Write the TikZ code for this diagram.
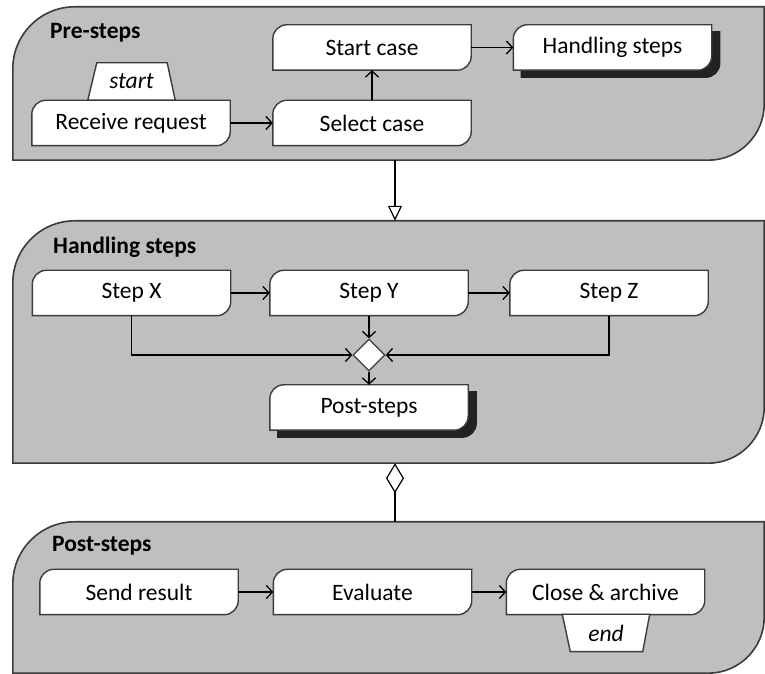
\documentclass[tikz,border=0pt]{standalone}
\usepackage{fontspec}
\setmainfont{Carlito}
\usetikzlibrary{arrows.meta,shapes.geometric,calc}

\pgfdeclarelayer{panels}
\pgfdeclarelayer{boxes}
\pgfsetlayers{panels,boxes,main}

\definecolor{panelfill}{RGB}{191,191,191}
\definecolor{edge}{RGB}{60,60,60}
\definecolor{shadowc}{RGB}{34,34,34}

\tikzset{
  lane/.style={rectangle, draw=none, inner sep=0pt},
  stepbox/.style={rectangle, draw=none, inner sep=0pt,
    minimum width=198pt, minimum height=45pt,
    font=\fontsize{23.5}{27}\selectfont},
  tagbox/.style={rectangle, draw=none, inner sep=0pt,
    minimum width=87pt, minimum height=37pt,
    font=\itshape\fontsize{23.5}{27}\selectfont},
  lanetitle/.style={anchor=west, inner sep=0pt,
    font=\bfseries\fontsize{23.5}{27}\selectfont},
  flow/.style={draw=black, line width=1.3pt,
    -{Straight Barb[length=6pt,width=13pt]}},
  merge/.style={diamond, draw=edge, fill=white, line width=1.3pt,
    minimum width=32pt, minimum height=32pt, inner sep=0pt},
}

% activity outline: rounded top-left and bottom-right corners
\newcommand\actoutline[2][]{%
  \draw[line width=1.4pt, draw=edge, fill=white, #1]
    (#2.south west) -- ([yshift=-14pt]#2.north west)
    arc[start angle=180, end angle=90, radius=14pt]
    -- (#2.north east) -- ([yshift=14pt]#2.south east)
    arc[start angle=0, end angle=-90, radius=14pt] -- cycle;}

% activity that calls a sub-activity: outline with a solid shadow
\newcommand\calloutline[1]{%
  \begin{scope}[transform canvas={xshift=8pt,yshift=-7pt}]
    \actoutline[fill=shadowc, draw=shadowc]{#1}
  \end{scope}
  \actoutline{#1}}

% swimlane outline
\newcommand\laneoutline[1]{%
  \draw[line width=1.6pt, draw=edge, fill=panelfill]
    (#1.south west) -- ([yshift=-62pt]#1.north west)
    arc[start angle=180, end angle=90, radius=62pt]
    -- (#1.north east) -- ([yshift=56pt]#1.south east)
    arc[start angle=0, end angle=-90, radius=56pt] -- cycle;}

\begin{document}
\begin{tikzpicture}[x=1pt, y=1pt]
  \useasboundingbox (0,0) rectangle (765,674);

  % lanes
  \node[lane, minimum width=751pt, minimum height=153pt] (pre) at (388.5,590.5) {};
  \node[lane, minimum width=751pt, minimum height=242pt] (handling) at (388.5,332) {};
  \node[lane, minimum width=751pt, minimum height=151pt] (post) at (388.5,76.5) {};

  \node[lanetitle] (pretitle) at (50,641) {Pre-steps};
  \node[lanetitle] (handtitle) at (53,427) {Handling steps};
  \node[lanetitle] (posttitle) at (52,128) {Post-steps};

  % pre-steps
  \node[tagbox] (start) at (131.5,592.5) {start};
  \node[stepbox] (recv) at (131,551) {Receive request};
  \node[stepbox] (select) at (372,551) {Select case};
  \node[stepbox] (startcase) at (372,626.5) {Start case};
  \node[stepbox] (handle) at (612.5,626.5) {Handling steps};

  % handling steps
  \node[stepbox] (stepx) at (131.5,381) {Step X};
  \node[stepbox] (stepy) at (369,381) {Step Y};
  \node[stepbox] (stepz) at (609,381) {Step Z};
  \node[merge] (join) at (369,319) {};
  \node[stepbox] (poststeps) at (369,266.5) {Post-steps};

  % post-steps
  \node[stepbox] (send) at (139,82) {Send result};
  \node[stepbox] (eval) at (372.5,82) {Evaluate};
  \node[stepbox] (close) at (605.5,82) {Close \& archive};
  \node[tagbox] (end) at (606,41) {end};

  \begin{pgfonlayer}{panels}
    \laneoutline{pre}
    \laneoutline{handling}
    \laneoutline{post}
  \end{pgfonlayer}

  \begin{pgfonlayer}{boxes}
    \actoutline{recv}
    \actoutline{select}
    \actoutline{startcase}
    \calloutline{handle}
    \actoutline{stepx}
    \actoutline{stepy}
    \actoutline{stepz}
    \calloutline{poststeps}
    \actoutline{send}
    \actoutline{eval}
    \actoutline{close}
    \draw[line width=1.4pt, draw=edge, fill=white]
      (start.south west) -- ([xshift=9pt]start.north west)
      -- ([xshift=-8pt]start.north east) -- (start.south east) -- cycle;
    \draw[line width=1.4pt, draw=edge, fill=white]
      (end.north west) -- ([xshift=8pt]end.south west)
      -- ([xshift=-7pt]end.south east) -- (end.north east) -- cycle;
  \end{pgfonlayer}

  % flows
  \draw[flow] (recv.east) -- (select.west);
  \draw[flow] (select.north) -- (startcase.south);
  \draw[flow] (startcase.east) -- (handle.west);

  \draw[flow] (stepx.east) -- (stepy.west);
  \draw[flow] (stepy.east) -- (stepz.west);
  \draw[flow] (stepx.south) |- (join.west);
  \draw[flow] (stepz.south) |- (join.east);
  \draw[flow] (stepy.south) -- (join.north);
  \draw[flow] (join.south) -- (poststeps.north);

  \draw[flow] (send.east) -- (eval.west);
  \draw[flow] (eval.east) -- (close.west);

  % lane links
  \coordinate (preout) at ([xshift=6.5pt]pre.south);
  \coordinate (handin) at ([xshift=6.5pt]handling.north);
  \coordinate (handout) at ([xshift=6.5pt]handling.south);
  \coordinate (postin) at ([xshift=6.5pt]post.north);
  \draw[line width=1.3pt, -{Triangle[length=15pt,width=14pt,fill=white,line width=1.2pt]}]
    (preout) -- (handin);
  \draw[line width=1.3pt, {Diamond[length=30pt,width=18pt,fill=white,line width=1.2pt]}-]
    (handout) -- (postin);
\end{tikzpicture}
\end{document}
